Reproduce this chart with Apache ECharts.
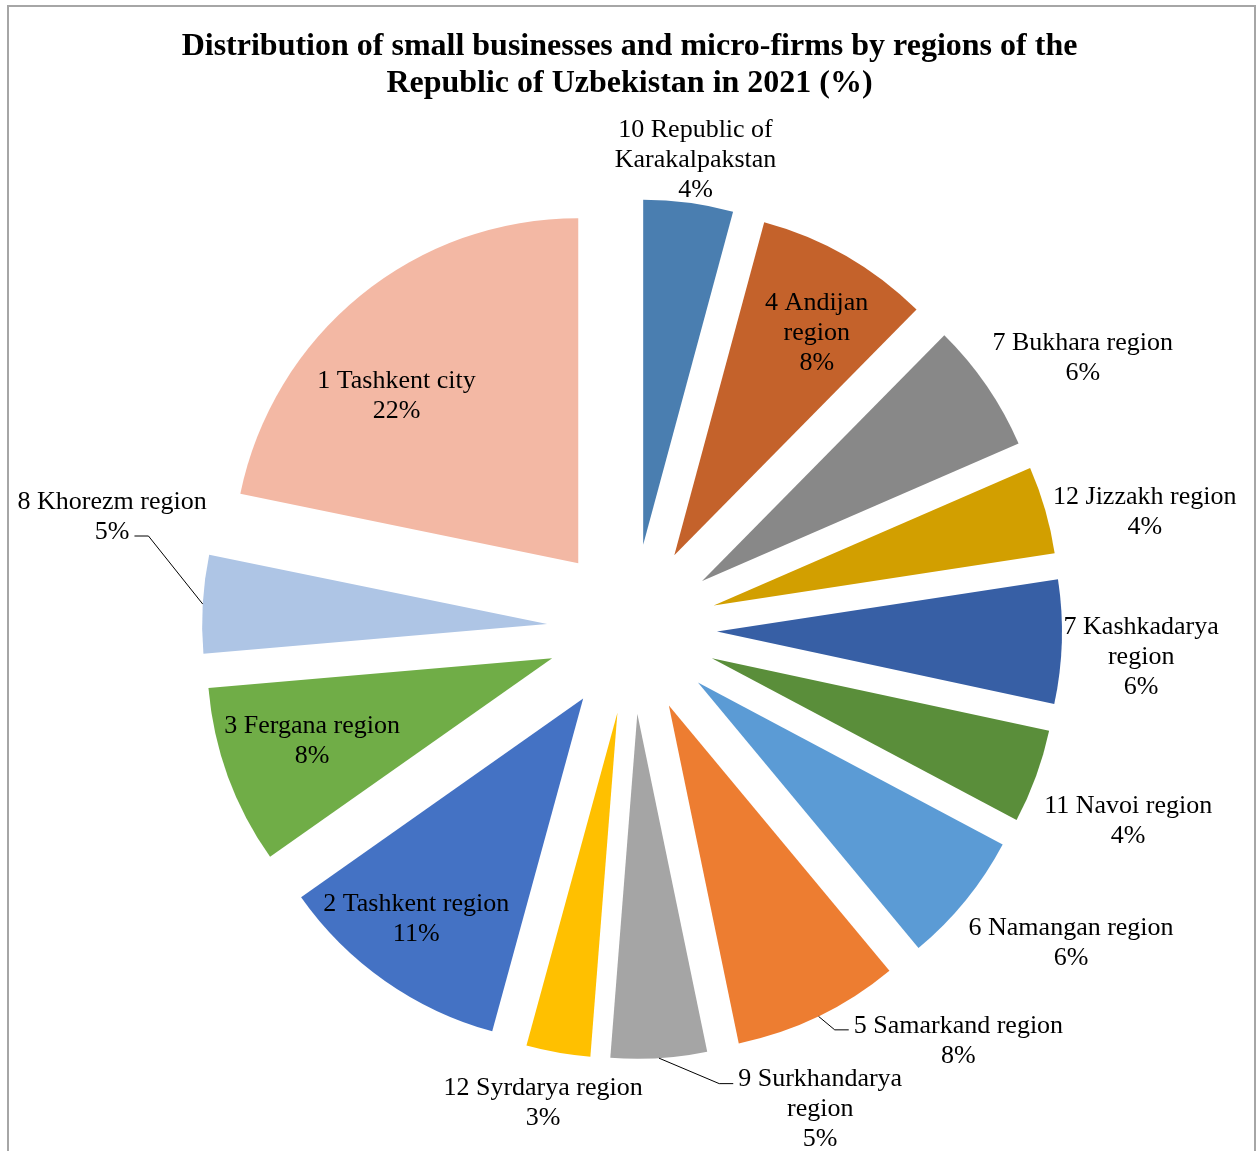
<!DOCTYPE html>
<html>
<head>
<meta charset="utf-8">
<title>Small businesses by region, Uzbekistan 2021</title>
<script src="https://cdn.jsdelivr.net/npm/echarts@6/dist/echarts.min.js"></script>
<style>
  html, body { margin: 0; padding: 0; background: #fff; }
  #chart { width: 1259px; height: 1151px; }
</style>
</head>
<body>
<div id="chart"></div>
<script>
// regions, clockwise from 12 o'clock (line breaks as printed on the chart)
const regions = [
  '10 Republic of\nKarakalpakstan',
  '4 Andijan\nregion',
  '7 Bukhara region',
  '12 Jizzakh region',
  '7 Kashkadarya\nregion',
  '11 Navoi region',
  '6 Namangan region',
  '5 Samarkand region',
  '9 Surkhandarya\nregion',
  '12 Syrdarya region',
  '2 Tashkent region',
  '3 Fergana region',
  '8 Khorezm region',
  '1 Tashkent city'
];
// share of small businesses, %
const shares = [4.2, 8.2, 6.1, 4.1, 5.8, 4.4, 6.2, 7.8, 4.5, 3.0, 11.0, 8.4, 4.6, 21.8];

const colors = [
  '#4a7eb0', '#c4622b', '#888888', '#d29f00', '#375fa5', '#5a8e3a', '#5b9bd5',
  '#ed7d31', '#a5a5a5', '#ffc000', '#4472c4', '#70ad47', '#aec5e5', '#f3b8a4'
];

// label placement: distance from the exploded slice centre, angle tweak (deg), leader line end
const labelPlace = [
  [388, 0.2], [264, 2.8], [441, 4.1], [441, 3.9], [425, 1.8], [447, 1.3], [455, -4.2],
  [443, -15.1, 'first'], [436, -21.2, 'first'], [397, 0.9], [277, 2.0], [254, 1.0],
  [448, 10.5, 'last'], [247, -8.2]
];

const CX = 632, CY = 629, R = 345, EXPLODE = 85;
const FONT = '"Liberation Serif", "Times New Roman", serif';
const FONT_SIZE = 26, LINE_H = 30;

const total = shares.reduce((a, b) => a + b, 0);
const midAngles = [];
let acc = 0;
shares.forEach(v => { midAngles.push((acc + v / 2) / total * 360); acc += v; });

function polar(x, y, dist, deg) {
  const t = deg * Math.PI / 180;
  return [x + dist * Math.sin(t), y - dist * Math.cos(t)];
}
function labelText(i) {
  return regions[i] + '\n' + Math.round(shares[i]) + '%';
}

const measure = document.createElement('canvas').getContext('2d');
measure.font = FONT_SIZE + 'px ' + FONT;

const chart = echarts.init(document.getElementById('chart'));

const option = {
  animation: false,
  backgroundColor: '#fff',
  title: {
    text: 'Distribution of small businesses and micro-firms by regions of the\nRepublic of Uzbekistan in 2021 (%)',
    left: 'center',
    top: 28,
    padding: 0,
    textStyle: {
      fontFamily: FONT,
      fontWeight: 'bold',
      fontSize: 32,
      lineHeight: 37,
      color: '#000'
    }
  },
  graphic: [{
    type: 'rect',
    silent: true,
    shape: { x: 8, y: 6, width: 1247, height: 1170 },
    style: { fill: 'none', stroke: '#a6a6a6', lineWidth: 2 }
  }],
  series: [
    {
      type: 'pie',
      z: 2,
      center: [CX, CY],
      radius: R,
      startAngle: 90,
      clockwise: true,
      selectedMode: 'multiple',
      selectedOffset: EXPLODE,
      emphasis: { scale: false },
      label: { show: false },
      labelLine: { show: false },
      data: shares.map((v, i) => ({
        name: regions[i],
        value: v,
        selected: true,
        itemStyle: { color: colors[i] }
      }))
    },
    {
      // transparent twin that carries the data labels
      type: 'pie',
      z: 5,
      silent: true,
      center: [CX, CY],
      radius: R,
      startAngle: 90,
      clockwise: true,
      avoidLabelOverlap: false,
      itemStyle: { color: 'rgba(0,0,0,0)' },
      label: {
        show: true,
        position: 'outside',
        formatter: p => labelText(p.dataIndex),
        fontFamily: FONT,
        fontSize: FONT_SIZE,
        lineHeight: LINE_H,
        color: '#000'
      },
      labelLine: { show: false, lineStyle: { color: '#000', width: 1 } },
      labelLayout: function (p) {
        const i = p.dataIndex;
        const th = midAngles[i];
        const pl = labelPlace[i];
        const e = polar(CX, CY, EXPLODE, th);
        const c = polar(e[0], e[1], pl[0], th + pl[1]);
        const out = { x: c[0], y: c[1], align: 'center', verticalAlign: 'middle' };
        if (pl[2]) {
          const lines = labelText(i).split('\n');
          const k = pl[2] === 'first' ? 0 : lines.length - 1;
          const side = pl[2] === 'first' ? -1 : 1;
          const w = measure.measureText(lines[k]).width;
          const ly = c[1] + (k - (lines.length - 1) / 2) * LINE_H + 4;
          const end = [c[0] + side * (w / 2 + 5), ly];
          const elbow = [end[0] + side * 14, ly];
          out.labelLinePoints = [polar(e[0], e[1], R, th), elbow, end];
        }
        return out;
      },
      data: shares.map((v, i) => ({
        name: regions[i],
        value: v,
        labelLine: { show: !!labelPlace[i][2] }
      }))
    }
  ]
};

chart.setOption(option);
window.addEventListener('resize', () => chart.resize());
</script>
</body>
</html>
